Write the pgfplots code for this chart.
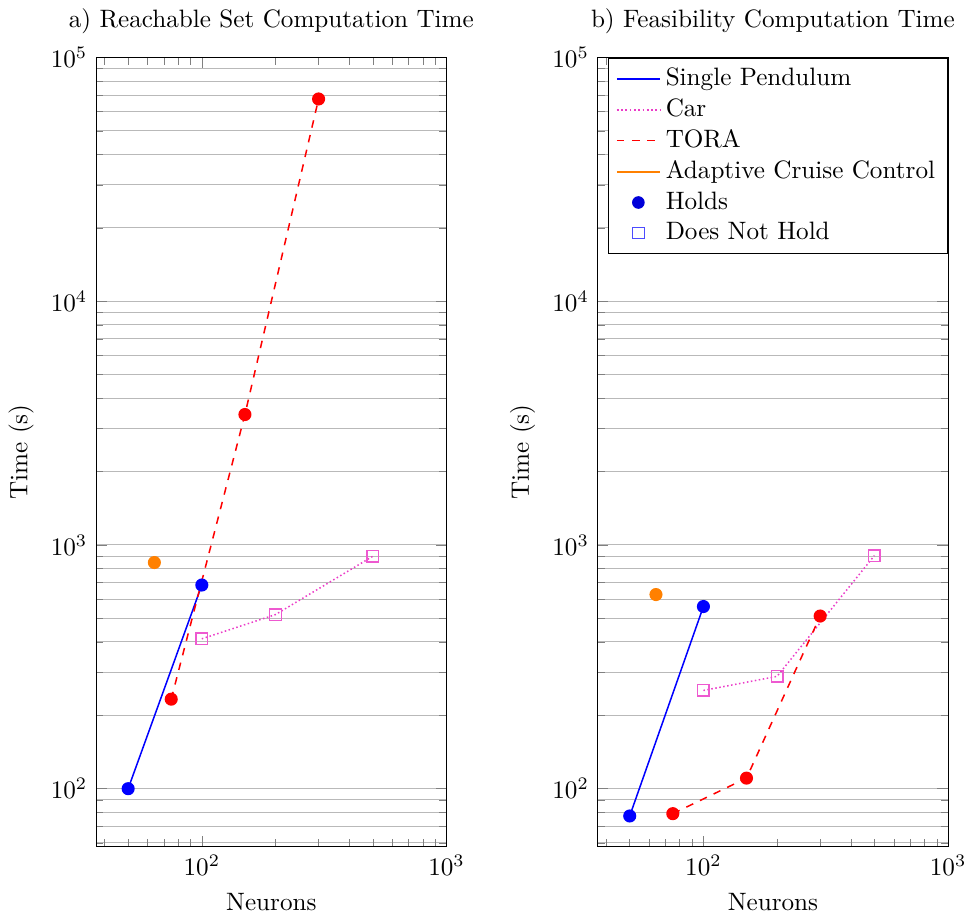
\documentclass[border=0pt]{standalone}
\usepackage{pgfplots}
\pgfplotsset{compat=1.18}
\definecolor{carpink}{RGB}{235,60,200}
\definecolor{accorange}{RGB}{255,128,0}
\tikzset{
  pend/.style={color=blue, solid, semithick, mark=*, mark size=2.3pt, mark options={solid, fill=blue}},
  car/.style={color=carpink, densely dotted, semithick, mark=square, mark size=2.3pt, mark options={solid, carpink!85}},
  tora/.style={color=red, dashed, semithick, mark=*, mark size=2.3pt, mark options={solid, fill=red}},
  acc/.style={color=accorange, solid, semithick, mark=*, mark size=2.3pt, mark options={solid, fill=accorange}},
}
\begin{document}
\begin{tikzpicture}[trim right=347pt]
\begin{axis}[xmode=log, ymode=log,
    scale only axis, width=139.3pt, height=313.6pt,
    xmin=37, xmax=1000, ymin=58, ymax=1e5,
    ymajorgrids, yminorgrids,
    major grid style={gray!55},
    minor grid style={gray!55},
    xlabel={Neurons}, ylabel={Time (s)},
    title={a) Reachable Set Computation Time}]
\addplot[pend] coordinates {(50,100) (100,685)};
\addplot[car] coordinates {(100,412) (200,518) (500,899)};
\addplot[tora] coordinates {(75,233) (150,3430) (300,67600)};
\addplot[acc] coordinates {(64,847)};
\end{axis}
\begin{axis}[xmode=log, ymode=log,
    scale only axis, width=139.3pt, height=313.6pt,
    xmin=37, xmax=1000, ymin=58, ymax=1e5,
    ymajorgrids, yminorgrids,
    major grid style={gray!55},
    minor grid style={gray!55},
    xlabel={Neurons}, ylabel={Time (s)},
    at={(199.4pt,0)}, title={b) Feasibility Computation Time},
    legend style={at={(1,1)}, anchor=north east, draw=black, fill=white, cells={anchor=west}, row sep=-0.3pt}]
\addplot[pend, forget plot] coordinates {(50,77.3) (100,559)};
\addplot[car, forget plot] coordinates {(100,253) (200,289) (500,905)};
\addplot[tora, forget plot] coordinates {(75,79) (150,110.5) (300,511)};
\addplot[acc, forget plot] coordinates {(64,626)};
\addlegendimage{draw=blue, line width=0.7pt, solid}
\addlegendentry{Single Pendulum}
\addlegendimage{draw=carpink, line width=0.7pt, densely dotted}
\addlegendentry{Car}
\addlegendimage{draw=red, line width=0.7pt, dashed}
\addlegendentry{TORA}
\addlegendimage{draw=accorange, line width=0.7pt, solid}
\addlegendentry{Adaptive Cruise Control}
\addlegendimage{only marks, mark=*, color=blue!85!black, mark size=2.3pt, mark options={draw=blue!85!black, fill=blue!85!black}}
\addlegendentry{Holds}
\addlegendimage{only marks, mark=square, color=blue!70, mark size=2.3pt, mark options={draw=blue!70, fill=none}}
\addlegendentry{Does Not Hold}
\end{axis}
\end{tikzpicture}
\end{document}
